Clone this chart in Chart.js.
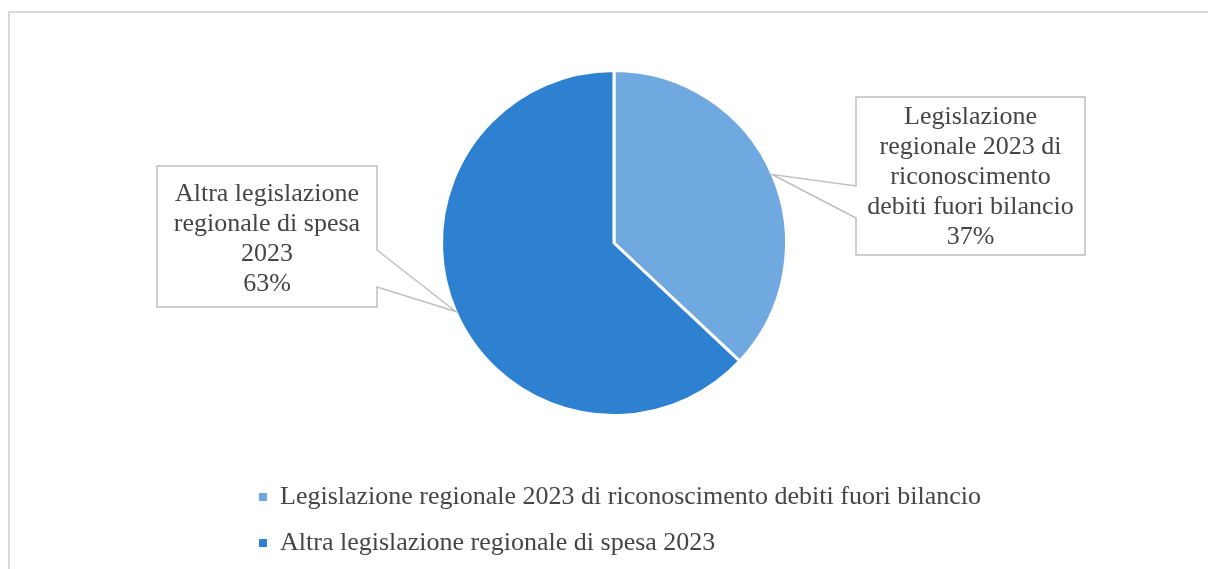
<!DOCTYPE html>
<html>
<head>
<meta charset="utf-8">
<script src="https://cdn.jsdelivr.net/npm/chart.js@4.4.1/dist/chart.umd.min.js"></script>
<style>
    html, body { margin: 0; padding: 0; background: #fff; }
    .frame {
        position: absolute; left: 8px; top: 11px; width: 1300px; height: 700px;
        border: 2px solid #d9d9d9; box-sizing: border-box; pointer-events: none;
    }
    #wrap { position: relative; width: 1208px; height: 569px; overflow: hidden; }
</style>
</head>
<body>
<div id="wrap">
    <canvas id="pieChart" width="1208" height="569"></canvas>
    <div class="frame"></div>
</div>
<script>
// === DATI ===
const labels = [
    'Legislazione regionale 2023 di riconoscimento debiti fuori bilancio',
    'Altra legislazione regionale di spesa 2023'
];
const values = [37, 63];
const colors = ['#70a8e0', '#2e80d0'];
// testo delle etichette (a capo come nel riferimento)
const calloutLines = [
    ['Legislazione', 'regionale 2023 di', 'riconoscimento', 'debiti fuori bilancio'],
    ['Altra legislazione', 'regionale di spesa', '2023']
];

const FONT = '"Liberation Serif", "DejaVu Serif", serif';
const TEXT_COLOR = '#454545';
const LINE_COLOR = '#bfbfbf';

// === CALLOUT + LEGENDA ===
const calloutPlugin = {
    id: 'callouts',
    afterDraw(chart, args, opts) {
        const ctx = chart.ctx;
        const meta = chart.getDatasetMeta(0);
        const total = values.reduce((a, b) => a + b, 0);

        meta.data.forEach((arc, i) => {
            const p = arc.getProps(['x', 'y', 'startAngle', 'endAngle', 'outerRadius'], true);
            const mid = (p.startAngle + p.endAngle) / 2;
            const ax = p.x + Math.cos(mid) * p.outerRadius;
            const ay = p.y + Math.sin(mid) * p.outerRadius;
            const b = opts.boxes[i];

            ctx.save();
            ctx.beginPath();
            ctx.moveTo(b.left, b.top);
            ctx.lineTo(b.right, b.top);
            if (b.side === 'right') {
                ctx.lineTo(b.right, b.p1);
                ctx.lineTo(ax, ay);
                ctx.lineTo(b.right, b.p2);
            }
            ctx.lineTo(b.right, b.bottom);
            ctx.lineTo(b.left, b.bottom);
            if (b.side === 'left') {
                ctx.lineTo(b.left, b.p2);
                ctx.lineTo(ax, ay);
                ctx.lineTo(b.left, b.p1);
            }
            ctx.closePath();
            ctx.fillStyle = '#fff';
            ctx.fill();
            ctx.strokeStyle = LINE_COLOR;
            ctx.lineWidth = 1.5;
            ctx.stroke();

            const lines = calloutLines[i].concat([Math.round(values[i] / total * 100) + '%']);
            ctx.fillStyle = TEXT_COLOR;
            ctx.font = opts.fontSize + 'px ' + FONT;
            ctx.textAlign = 'center';
            ctx.textBaseline = 'middle';
            const cx = (b.left + b.right) / 2;
            lines.forEach((t, k) => ctx.fillText(t, cx, b.textTop + k * opts.lineHeight));
            ctx.restore();
        });

        // legenda verticale
        ctx.save();
        ctx.font = opts.fontSize + 'px ' + FONT;
        ctx.textAlign = 'left';
        ctx.textBaseline = 'middle';
        labels.forEach((l, i) => {
            const y = opts.legend.top + i * opts.legend.gap;
            ctx.fillStyle = colors[i];
            ctx.fillRect(opts.legend.x, y - 4, 8, 8);
            ctx.fillStyle = TEXT_COLOR;
            ctx.fillText(l, opts.legend.x + 21, y);
        });
        ctx.restore();
    }
};

// === GRAFICO A TORTA ===
const pieCtx = document.getElementById('pieChart').getContext('2d');
new Chart(pieCtx, {
    type: 'pie',
    data: {
        labels: labels,
        datasets: [{
            data: values,
            backgroundColor: colors,
            borderColor: '#ffffff',
            borderWidth: 3
        }]
    },
    options: {
        responsive: false,
        animation: false,
        layout: { padding: { top: 69, bottom: 152, left: 20, right: 0 } },
        plugins: {
            legend: { display: false },
            tooltip: { enabled: false },
            callouts: {
                fontSize: 26,
                lineHeight: 30,
                legend: { x: 259, top: 497, gap: 46 },
                boxes: [
                    { left: 856, right: 1085, top: 97, bottom: 255, side: 'left', p1: 186, p2: 218, textTop: 117 },
                    { left: 157, right: 377, top: 166, bottom: 307, side: 'right', p1: 250, p2: 287, textTop: 194 }
                ]
            }
        }
    },
    plugins: [calloutPlugin]
});
</script>
</body>
</html>
